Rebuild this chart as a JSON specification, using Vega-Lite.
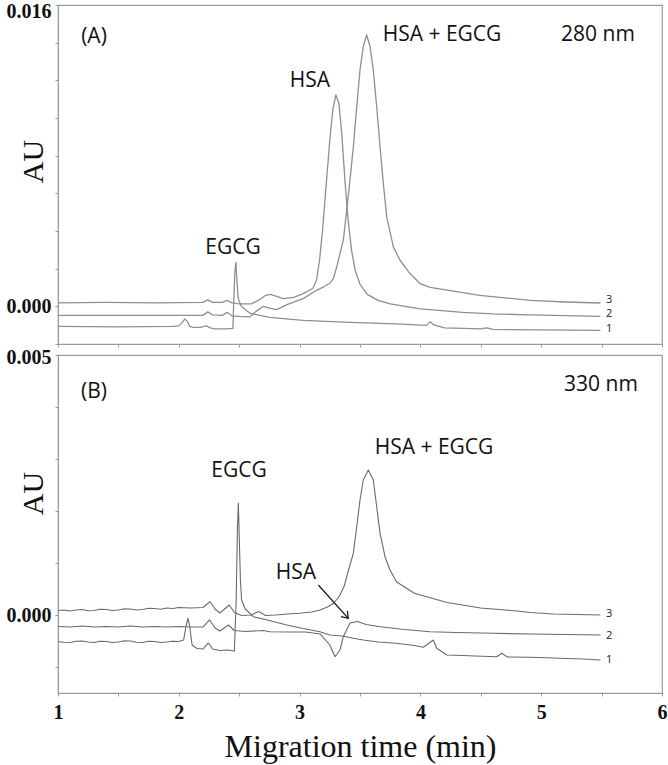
{
"$schema": "https://vega.github.io/schema/vega-lite/v6.json",
"autosize": {"type": "none"},
"padding": {"left": 58, "top": 5, "right": 610, "bottom": 760},
"background": "white",
"bounds": "flush",
"spacing": 11,
"config": {
  "view": {"stroke": "#9a9a9a", "strokeWidth": 1.2},
  "axis": {"grid": false, "domainColor": "#9a9a9a", "tickColor": "#9a9a9a", "tickSize": 3, "labelFont": "Liberation Serif", "labelFontWeight": "bold", "labelFontSize": 20, "labelColor": "#111", "titleFont": "Liberation Serif", "titleFontWeight": "normal", "titleColor": "#111", "labelOverlap": false, "labelFlush": false}
},
"datasets": {
  "A": [
    {"s":"1","t":1.00,"v":-0.001064},{"s":"1","t":1.50,"v":-0.001091},{"s":"1","t":1.95,"v":-0.001064},{"s":"1","t":2.00,"v":-0.001037},{"s":"1","t":2.03,"v":-0.000851},{"s":"1","t":2.05,"v":-0.000665},{"s":"1","t":2.07,"v":-0.000798},{"s":"1","t":2.09,"v":-0.001064},{"s":"1","t":2.12,"v":-0.001117},{"s":"1","t":2.18,"v":-0.001117},{"s":"1","t":2.21,"v":-0.001064},{"s":"1","t":2.23,"v":-0.001037},{"s":"1","t":2.26,"v":-0.001144},{"s":"1","t":2.30,"v":-0.001197},{"s":"1","t":2.40,"v":-0.001197},{"s":"1","t":2.448,"v":-0.00117},{"s":"1","t":2.455,"v":0.000319},{"s":"1","t":2.465,"v":0.001915},{"s":"1","t":2.473,"v":0.002341},{"s":"1","t":2.48,"v":0.001489},{"s":"1","t":2.49,"v":0.000532},{"s":"1","t":2.50,"v":0.000266},{"s":"1","t":2.52,"v":-0.000027},{"s":"1","t":2.59,"v":-0.000372},{"s":"1","t":2.75,"v":-0.000585},{"s":"1","t":3.03,"v":-0.000745},{"s":"1","t":3.42,"v":-0.000851},{"s":"1","t":3.80,"v":-0.000931},{"s":"1","t":4.05,"v":-0.001011},{"s":"1","t":4.08,"v":-0.000825},{"s":"1","t":4.11,"v":-0.000984},{"s":"1","t":4.20,"v":-0.001144},{"s":"1","t":4.50,"v":-0.001197},{"s":"1","t":4.55,"v":-0.001144},{"s":"1","t":4.60,"v":-0.001224},{"s":"1","t":5.00,"v":-0.00125},{"s":"1","t":5.49,"v":-0.001277},
    {"s":"2","t":1.00,"v":0.000186},{"s":"2","t":1.40,"v":0.000213},{"s":"2","t":1.80,"v":0.000186},{"s":"2","t":2.20,"v":0.000213},{"s":"2","t":2.24,"v":0.000346},{"s":"2","t":2.28,"v":0.000213},{"s":"2","t":2.36,"v":0.000213},{"s":"2","t":2.40,"v":0.000319},{"s":"2","t":2.44,"v":0.000186},{"s":"2","t":2.50,"v":0.000133},{"s":"2","t":2.60,"v":0.000133},{"s":"2","t":2.66,"v":0.000319},{"s":"2","t":2.72,"v":0.000585},{"s":"2","t":2.76,"v":0.000638},{"s":"2","t":2.865,"v":0.00041},{"s":"2","t":2.95,"v":0.000479},{"s":"2","t":3.03,"v":0.000676},{"s":"2","t":3.11,"v":0.000958},{"s":"2","t":3.14,"v":0.001383},{"s":"2","t":3.165,"v":0.002447},{"s":"2","t":3.19,"v":0.004043},{"s":"2","t":3.22,"v":0.006437},{"s":"2","t":3.25,"v":0.008831},{"s":"2","t":3.275,"v":0.010427},{"s":"2","t":3.30,"v":0.011225},{"s":"2","t":3.325,"v":0.0108},{"s":"2","t":3.35,"v":0.009097},{"s":"2","t":3.375,"v":0.006703},{"s":"2","t":3.40,"v":0.004682},{"s":"2","t":3.43,"v":0.002979},{"s":"2","t":3.46,"v":0.001915},{"s":"2","t":3.50,"v":0.00117},{"s":"2","t":3.56,"v":0.000638},{"s":"2","t":3.65,"v":0.000319},{"s":"2","t":3.75,"v":0.000133},{"s":"2","t":3.90,"v":-0.000027},{"s":"2","t":4.00,"v":-0.000133},{"s":"2","t":4.35,"v":-0.000319},{"s":"2","t":4.60,"v":-0.000399},{"s":"2","t":4.90,"v":-0.000452},{"s":"2","t":5.20,"v":-0.000495},{"s":"2","t":5.49,"v":-0.000532},
    {"s":"3","t":1.00,"v":-0.000479},{"s":"3","t":1.50,"v":-0.000479},{"s":"3","t":2.00,"v":-0.000479},{"s":"3","t":2.20,"v":-0.000479},{"s":"3","t":2.24,"v":-0.000293},{"s":"3","t":2.28,"v":-0.000452},{"s":"3","t":2.36,"v":-0.000479},{"s":"3","t":2.40,"v":-0.000319},{"s":"3","t":2.44,"v":-0.000505},{"s":"3","t":2.50,"v":-0.000532},{"s":"3","t":2.59,"v":-0.000559},{"s":"3","t":2.64,"v":-0.000266},{"s":"3","t":2.70,"v":0.0},{"s":"3","t":2.76,"v":-0.000106},{"s":"3","t":2.81,"v":-0.000176},{"s":"3","t":2.90,"v":0.000106},{"s":"3","t":3.03,"v":0.00041},{"s":"3","t":3.14,"v":0.000851},{"s":"3","t":3.20,"v":0.001037},{"s":"3","t":3.25,"v":0.001224},{"s":"3","t":3.28,"v":0.00149},{"s":"3","t":3.307,"v":0.002091},{"s":"3","t":3.362,"v":0.003511},{"s":"3","t":3.39,"v":0.005107},{"s":"3","t":3.417,"v":0.006703},{"s":"3","t":3.445,"v":0.008475},{"s":"3","t":3.473,"v":0.010603},{"s":"3","t":3.50,"v":0.012555},{"s":"3","t":3.527,"v":0.013795},{"s":"3","t":3.555,"v":0.014417},{"s":"3","t":3.583,"v":0.013795},{"s":"3","t":3.61,"v":0.012555},{"s":"3","t":3.638,"v":0.010603},{"s":"3","t":3.666,"v":0.008475},{"s":"3","t":3.693,"v":0.006528},{"s":"3","t":3.721,"v":0.004751},{"s":"3","t":3.776,"v":0.003155},{"s":"3","t":3.831,"v":0.002447},{"s":"3","t":3.914,"v":0.00174},{"s":"3","t":3.997,"v":0.001208},{"s":"3","t":4.08,"v":0.001011},{"s":"3","t":4.49,"v":0.000585},{"s":"3","t":4.91,"v":0.000319},{"s":"3","t":5.20,"v":0.000229},{"s":"3","t":5.49,"v":0.000176}
  ],
  "B": [
    {"s":"1","t":1.00,"v":-0.000513},{"s":"1","t":1.05,"v":-0.000524},{"s":"1","t":1.10,"v":-0.000529},{"s":"1","t":1.15,"v":-0.000505},{"s":"1","t":1.20,"v":-0.0005},{"s":"1","t":1.25,"v":-0.000519},{"s":"1","t":1.30,"v":-0.000529},{"s":"1","t":1.35,"v":-0.000505},{"s":"1","t":1.40,"v":-0.00051},{"s":"1","t":1.45,"v":-0.000529},{"s":"1","t":1.50,"v":-0.000519},{"s":"1","t":1.55,"v":-0.000495},{"s":"1","t":1.60,"v":-0.0005},{"s":"1","t":1.65,"v":-0.000524},{"s":"1","t":1.70,"v":-0.000529},{"s":"1","t":1.75,"v":-0.000505},{"s":"1","t":1.80,"v":-0.00051},{"s":"1","t":1.85,"v":-0.000529},{"s":"1","t":1.90,"v":-0.000519},{"s":"1","t":1.95,"v":-0.000505},{"s":"1","t":2.00,"v":-0.00051},{"s":"1","t":2.04,"v":-0.000481},{"s":"1","t":2.06,"v":-0.000212},{"s":"1","t":2.075,"v":-0.000063},{"s":"1","t":2.09,"v":-0.000212},{"s":"1","t":2.11,"v":-0.000577},{"s":"1","t":2.15,"v":-0.000644},{"s":"1","t":2.20,"v":-0.000654},{"s":"1","t":2.245,"v":-0.000538},{"s":"1","t":2.28,"v":-0.000654},{"s":"1","t":2.34,"v":-0.000683},{"s":"1","t":2.40,"v":-0.000673},{"s":"1","t":2.46,"v":-0.000692},{"s":"1","t":2.475,"v":0.000288},{"s":"1","t":2.485,"v":0.001635},{"s":"1","t":2.493,"v":0.002148},{"s":"1","t":2.50,"v":0.001538},{"s":"1","t":2.51,"v":0.000673},{"s":"1","t":2.52,"v":0.000288},{"s":"1","t":2.55,"v":0.000115},{"s":"1","t":2.617,"v":-0.000033},{"s":"1","t":2.75,"v":-0.000106},{"s":"1","t":2.893,"v":-0.000192},{"s":"1","t":3.03,"v":-0.00026},{"s":"1","t":3.169,"v":-0.000321},{"s":"1","t":3.25,"v":-0.000385},{"s":"1","t":3.35,"v":-0.000404},{"s":"1","t":3.445,"v":-0.000448},{"s":"1","t":3.527,"v":-0.000481},{"s":"1","t":3.65,"v":-0.000519},{"s":"1","t":3.80,"v":-0.000544},{"s":"1","t":3.95,"v":-0.000587},{"s":"1","t":4.024,"v":-0.000621},{"s":"1","t":4.107,"v":-0.000481},{"s":"1","t":4.135,"v":-0.00064},{"s":"1","t":4.218,"v":-0.000769},{"s":"1","t":4.35,"v":-0.000779},{"s":"1","t":4.45,"v":-0.000788},{"s":"1","t":4.632,"v":-0.000802},{"s":"1","t":4.673,"v":-0.000737},{"s":"1","t":4.72,"v":-0.000808},{"s":"1","t":4.907,"v":-0.000813},{"s":"1","t":5.05,"v":-0.000822},{"s":"1","t":5.20,"v":-0.000837},{"s":"1","t":5.35,"v":-0.000846},{"s":"1","t":5.49,"v":-0.000865},
    {"s":"2","t":1.00,"v":-0.000221},{"s":"2","t":1.10,"v":-0.000231},{"s":"2","t":1.20,"v":-0.000212},{"s":"2","t":1.30,"v":-0.000231},{"s":"2","t":1.40,"v":-0.000221},{"s":"2","t":1.50,"v":-0.000231},{"s":"2","t":1.60,"v":-0.000212},{"s":"2","t":1.70,"v":-0.000231},{"s":"2","t":1.80,"v":-0.000221},{"s":"2","t":1.90,"v":-0.000231},{"s":"2","t":2.00,"v":-0.000221},{"s":"2","t":2.10,"v":-0.000231},{"s":"2","t":2.20,"v":-0.000231},{"s":"2","t":2.255,"v":-0.000096},{"s":"2","t":2.30,"v":-0.00025},{"s":"2","t":2.34,"v":-0.000308},{"s":"2","t":2.41,"v":-0.000192},{"s":"2","t":2.46,"v":-0.000298},{"s":"2","t":2.55,"v":-0.000317},{"s":"2","t":2.70,"v":-0.000298},{"s":"2","t":2.755,"v":-0.000321},{"s":"2","t":2.90,"v":-0.000327},{"s":"2","t":3.05,"v":-0.000327},{"s":"2","t":3.17,"v":-0.000365},{"s":"2","t":3.25,"v":-0.000577},{"s":"2","t":3.293,"v":-0.000802},{"s":"2","t":3.334,"v":-0.000673},{"s":"2","t":3.362,"v":-0.000417},{"s":"2","t":3.417,"v":-0.000154},{"s":"2","t":3.48,"v":-0.000125},{"s":"2","t":3.55,"v":-0.000183},{"s":"2","t":3.666,"v":-0.000225},{"s":"2","t":3.85,"v":-0.000275},{"s":"2","t":4.08,"v":-0.000321},{"s":"2","t":4.30,"v":-0.000337},{"s":"2","t":4.60,"v":-0.000352},{"s":"2","t":4.91,"v":-0.000365},{"s":"2","t":5.20,"v":-0.000375},{"s":"2","t":5.49,"v":-0.000385},
    {"s":"3","t":1.00,"v":0.000087},{"s":"3","t":1.05,"v":0.000096},{"s":"3","t":1.10,"v":0.000077},{"s":"3","t":1.15,"v":0.000096},{"s":"3","t":1.20,"v":0.000106},{"s":"3","t":1.25,"v":0.000082},{"s":"3","t":1.30,"v":0.000087},{"s":"3","t":1.35,"v":0.000111},{"s":"3","t":1.40,"v":0.000106},{"s":"3","t":1.45,"v":0.000087},{"s":"3","t":1.50,"v":0.000096},{"s":"3","t":1.55,"v":0.00012},{"s":"3","t":1.60,"v":0.000115},{"s":"3","t":1.65,"v":0.000096},{"s":"3","t":1.70,"v":0.000106},{"s":"3","t":1.75,"v":0.00013},{"s":"3","t":1.80,"v":0.000125},{"s":"3","t":1.85,"v":0.000111},{"s":"3","t":1.90,"v":0.000135},{"s":"3","t":1.95,"v":0.000125},{"s":"3","t":2.00,"v":0.000144},{"s":"3","t":2.10,"v":0.000135},{"s":"3","t":2.20,"v":0.000144},{"s":"3","t":2.258,"v":0.000256},{"s":"3","t":2.30,"v":0.000115},{"s":"3","t":2.34,"v":0.000038},{"s":"3","t":2.418,"v":0.000192},{"s":"3","t":2.46,"v":0.000048},{"s":"3","t":2.52,"v":-0.00001},{"s":"3","t":2.60,"v":0.0},{"s":"3","t":2.66,"v":0.000067},{"s":"3","t":2.72,"v":-0.00001},{"s":"3","t":2.80,"v":0.0},{"s":"3","t":2.90,"v":0.000019},{"s":"3","t":3.00,"v":0.000033},{"s":"3","t":3.10,"v":0.000058},{"s":"3","t":3.17,"v":0.000096},{"s":"3","t":3.23,"v":0.000154},{"s":"3","t":3.28,"v":0.000221},{"s":"3","t":3.33,"v":0.000365},{"s":"3","t":3.37,"v":0.000558},{"s":"3","t":3.40,"v":0.000827},{"s":"3","t":3.445,"v":0.001186},{"s":"3","t":3.473,"v":0.001698},{"s":"3","t":3.50,"v":0.002211},{"s":"3","t":3.527,"v":0.002596},{"s":"3","t":3.569,"v":0.002788},{"s":"3","t":3.61,"v":0.002596},{"s":"3","t":3.638,"v":0.002083},{"s":"3","t":3.666,"v":0.001571},{"s":"3","t":3.707,"v":0.001121},{"s":"3","t":3.748,"v":0.000865},{"s":"3","t":3.804,"v":0.000635},{"s":"3","t":3.95,"v":0.000417},{"s":"3","t":4.22,"v":0.00024},{"s":"3","t":4.50,"v":0.000135},{"s":"3","t":4.70,"v":0.000096},{"s":"3","t":4.80,"v":0.000077},{"s":"3","t":4.91,"v":0.000048},{"s":"3","t":5.10,"v":0.000019},{"s":"3","t":5.30,"v":0.00001},{"s":"3","t":5.49,"v":0.0}
  ],
  "annA": [
    {"t":1.298,"v":0.014311,"label":"(A)"},
    {"t":3.086,"v":0.01197,"label":"HSA"},
    {"t":4.179,"v":0.014417,"label":"HSA + EGCG"},
    {"t":5.47,"v":0.014417,"label":"280 nm"},
    {"t":2.449,"v":0.003086,"label":"EGCG"}
  ],
  "numA": [
    {"t":5.536,"v":0.000346,"label":"3"},
    {"t":5.536,"v":-0.000426,"label":"2"},
    {"t":5.536,"v":-0.00121,"label":"1"}
  ],
  "annB": [
    {"t":1.298,"v":0.004288,"label":"(B)"},
    {"t":5.495,"v":0.004423,"label":"330 nm"},
    {"t":4.113,"v":0.003211,"label":"HSA + EGCG"},
    {"t":2.498,"v":0.002769,"label":"EGCG"},
    {"t":2.97,"v":0.000808,"label":"HSA"}
  ],
  "numB": [
    {"t":5.536,"v":0.000019,"label":"3"},
    {"t":5.536,"v":-0.000404,"label":"2"},
    {"t":5.536,"v":-0.000856,"label":"1"}
  ],
  "arrow": [
    {"t":3.155,"v":0.000577,"t2":3.403,"v2":-0.0000635}
  ],
  "arrowHead": [
    {"t":3.403,"v":-0.0000635}
  ]
},
"vconcat": [
  {
    "width": 604, "height": 339,
    "encoding": {
      "x": {"field": "t", "type": "quantitative", "scale": {"domain": [1, 6], "nice": false, "zero": false},
            "axis": {"values": [1,1.5,2,2.5,3,3.5,4,4.5,5,5.5,6], "labels": false, "title": null}},
      "y": {"field": "v", "type": "quantitative", "scale": {"domain": [-0.002, 0.016], "nice": false, "zero": false},
            "axis": {"values": [-0.002,0,0.002,0.004,0.006,0.008,0.01,0.012,0.014,0.016], "labelPadding": 4, "labelBaseline": "middle",
                     "labelOffset": {"condition": {"test": "datum.value > 0.0159", "value": 6}, "value": 0},
                     "labelExpr": "(abs(datum.value) < 0.0000001 || datum.value > 0.0159) ? format(datum.value, '.3f') : ''",
                     "title": "AU", "titleFontSize": 30, "titleX": -25, "titleY": 156, "titleAngle": -90, "titleBaseline": "middle", "titleAlign": "center"}}
    },
    "layer": [
      {
        "data": {"name": "A"},
        "mark": {"type": "line", "color": "#8f8f8f", "strokeWidth": 1.3, "strokeJoin": "round"},
        "encoding": {"detail": {"field": "s", "type": "nominal"}}
      },
      {
        "data": {"name": "annA"},
        "mark": {"type": "text", "font": "Open Sans", "fontSize": 21, "color": "#111", "align": "center", "baseline": "middle"},
        "encoding": {"text": {"field": "label"}}
      },
      {
        "data": {"name": "numA"},
        "mark": {"type": "text", "font": "Open Sans", "fontSize": 11, "color": "#222", "align": "left", "baseline": "middle"},
        "encoding": {"text": {"field": "label"}}
      }
    ]
  },
  {
    "width": 604, "height": 338,
    "encoding": {
      "x": {"field": "t", "type": "quantitative", "scale": {"domain": [1, 6], "nice": false, "zero": false},
            "axis": {"values": [1,1.5,2,2.5,3,3.5,4,4.5,5,5.5,6], "labelExpr": "datum.value % 1 == 0 ? format(datum.value, 'd') : ''", "labelPadding": 6,
                     "title": "Migration time (min)", "titleFontSize": 32, "titlePadding": 9}},
      "y": {"field": "v", "type": "quantitative", "scale": {"domain": [-0.0015, 0.005], "nice": false, "zero": false},
            "axis": {"values": [-0.001,0,0.001,0.002,0.003,0.004,0.005], "labelPadding": 4, "labelBaseline": "middle",
                     "labelOffset": {"condition": {"test": "datum.value > 0.0049", "value": 2}, "value": 0},
                     "labelExpr": "(abs(datum.value) < 0.0000001 || datum.value > 0.0049) ? format(datum.value, '.3f') : ''",
                     "title": "AU", "titleFontSize": 30, "titleX": -25, "titleY": 138, "titleAngle": -90, "titleBaseline": "middle", "titleAlign": "center"}}
    },
    "layer": [
      {
        "data": {"name": "B"},
        "mark": {"type": "line", "color": "#6a6a6a", "strokeWidth": 1.1, "strokeJoin": "round"},
        "encoding": {"detail": {"field": "s", "type": "nominal"}}
      },
      {
        "data": {"name": "annB"},
        "mark": {"type": "text", "font": "Open Sans", "fontSize": 21, "color": "#111", "align": "center", "baseline": "middle"},
        "encoding": {"text": {"field": "label"}}
      },
      {
        "data": {"name": "numB"},
        "mark": {"type": "text", "font": "Open Sans", "fontSize": 11, "color": "#222", "align": "left", "baseline": "middle"},
        "encoding": {"text": {"field": "label"}}
      },
      {
        "data": {"name": "arrow"},
        "mark": {"type": "rule", "color": "#111", "strokeWidth": 1.2},
        "encoding": {"x2": {"field": "t2"}, "y2": {"field": "v2"}}
      },
      {
        "data": {"name": "arrowHead"},
        "mark": {"type": "point", "shape": "M -0.7 1 L 0 0 L 0.7 1", "filled": false, "stroke": "#111", "strokeWidth": 1.2, "size": 150, "angle": 138, "opacity": 1}
      }
    ]
  }
]
}
